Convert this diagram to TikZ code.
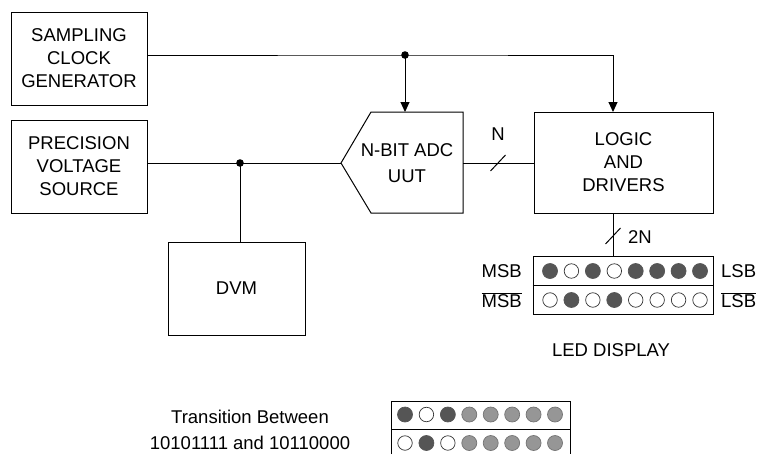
\documentclass[tikz,border=0pt]{standalone}
\usepackage{fontspec}
\setmainfont{Liberation Sans}
\usetikzlibrary{positioning, arrows.meta}
\definecolor{leddark}{RGB}{85,85,85}
\definecolor{ledgrey}{RGB}{150,150,150}
\tikzset{
    blockbox/.style={rectangle, draw, line width=1pt, align=center, inner sep=0pt, font=\fontsize{18.5}{23}\selectfont},
    plainlbl/.style={inner sep=0pt, align=center, font=\fontsize{18.5}{26}\selectfont},
    wire/.style={line width=1pt},
    arr/.style={line width=1pt, -{Triangle[length=10pt, width=9pt]}},
    ledon/.style={circle, minimum size=15pt, inner sep=0pt, line width=0.7pt, draw=leddark, fill=leddark},
    ledoff/.style={circle, minimum size=14.5pt, inner sep=0pt, line width=0.7pt, draw=black!80, fill=white},
    ledmid/.style={circle, minimum size=15pt, inner sep=0pt, line width=0.7pt, draw=black!55, fill=ledgrey}
}
\begin{document}
\begin{tikzpicture}[x=1pt, y=-1pt]
    \useasboundingbox (0,0) rectangle (767,455);
    % blocks
    \node[blockbox, minimum width=136pt, minimum height=93pt] (clk) at (79,58.5) {SAMPLING\\CLOCK\\GENERATOR};
    \node[blockbox, minimum width=136pt, minimum height=93pt] (src) at (79,166.5) {PRECISION\\VOLTAGE\\SOURCE};
    \node[blockbox, minimum width=137pt, minimum height=93pt] (dvm) at (236.5,288.5) {DVM};
    \node[blockbox, minimum width=179pt, minimum height=101pt] (logic) at (623.5,162.5) {LOGIC\\AND\\DRIVERS};
    \node[plainlbl] (adc) at (407,163) {N-BIT ADC\\UUT};
    \draw[line width=1pt] (341,163) -- (371,112) -- (463,112) -- (463,213) -- (371,213) -- cycle;
    \coordinate (adcin) at (341,163);
    \coordinate (adctop) at (405,112);
    \coordinate (adcout) at (463,163);
    \coordinate (clkdot) at (405,55);
    \coordinate (srcdot) at (240,163);
    \coordinate (logicin) at (613,112);
    \coordinate (busx) at (613,0);

    % clock and signal wires
    \draw[arr] (clk.east |- clkdot) -- (clkdot) -| (logicin);
    \draw[arr] (clkdot) -- (adctop);
    \fill (clkdot) circle (3.8);
    \draw[wire] (src.east |- srcdot) -- (adcin);
    \draw[wire] (srcdot) -- (srcdot |- dvm.north);
    \fill (srcdot) circle (3.8);
    \draw[wire] (adcout) -- (logic.west |- adcout);
    \draw[wire, shift={(498,163)}] (-7.5,8) -- (7.5,-8);
    \node[plainlbl] (nlbl) at (498,134) {N};

    % led display
    \node[draw, line width=1pt, minimum width=180pt, minimum height=58pt, inner sep=0pt] (disp) at (623,285) {};
    \draw[line width=1pt] (disp.west) -- (disp.east);
    \draw[wire] (logic.south -| busx) -- (disp.north -| busx);
    \draw[wire, shift={(613,236)}] (-7.5,8) -- (7.5,-8);
    \node[plainlbl] (twon) at (640,237) {2N};
    \foreach \s [count=\i] in {on,off,on,off,on,on,on,on}
        \node[led\s] (upa\i) at ({550+21.43*(\i-1)},271) {};
    \foreach \s [count=\i] in {off,on,off,on,off,off,off,off}
        \node[led\s] (upb\i) at ({550+21.43*(\i-1)},300) {};
    \node[plainlbl, anchor=east] (msb) at (522,271) {MSB};
    \node[plainlbl, anchor=east] (nmsb) at (522,300) {$\overline{\mbox{MSB}}$};
    \node[plainlbl, anchor=west] (lsb) at (721,271) {LSB};
    \node[plainlbl, anchor=west] (nlsb) at (721,300) {$\overline{\mbox{LSB}}$};
    \node[plainlbl] (displbl) at (611,350) {LED DISPLAY};

    % transition example
    \node[plainlbl] (trans) at (250,430) {Transition Between\\10101111 and 10110000};
    \draw[line width=1pt] (391,454) -- (391,401) -- (570,401) -- (570,454);
    \draw[line width=1pt] (391,429.5) -- (570,429.5);
    \foreach \s [count=\i] in {on,off,on,mid,mid,mid,mid,mid}
        \node[led\s] (lowa\i) at ({405+21.43*(\i-1)},414.5) {};
    \foreach \s [count=\i] in {off,on,off,mid,mid,mid,mid,mid}
        \node[led\s] (lowb\i) at ({405+21.43*(\i-1)},443) {};
\end{tikzpicture}
\end{document}
